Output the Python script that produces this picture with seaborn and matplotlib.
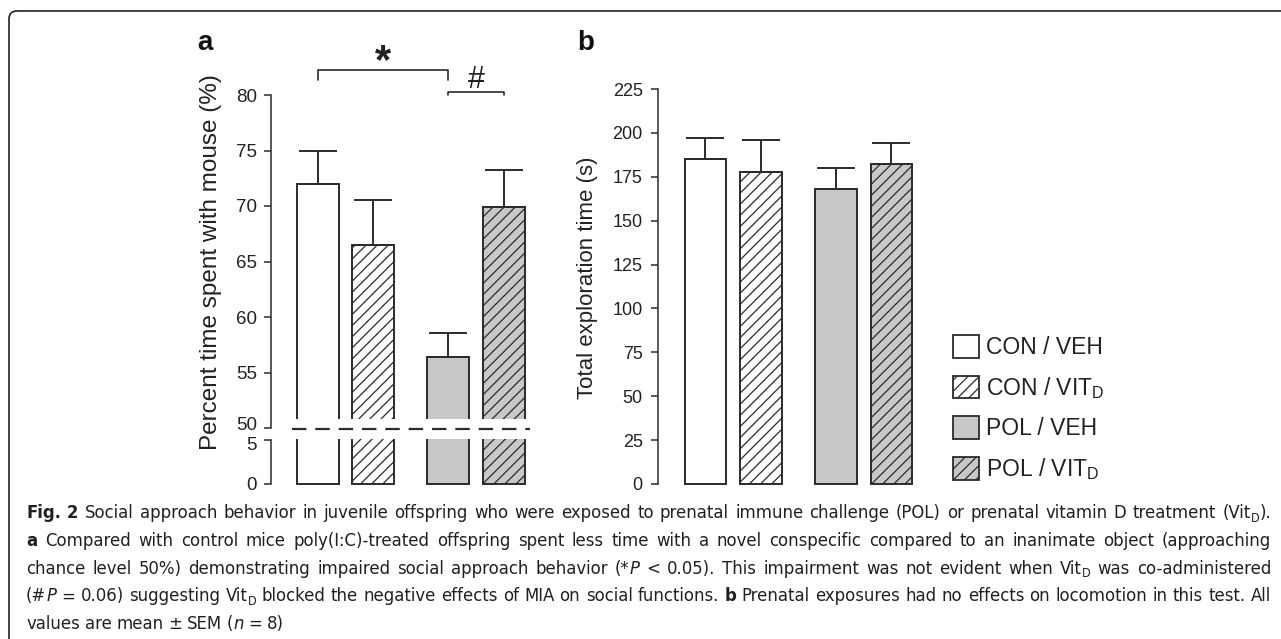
import os
import numpy as np
import pandas as pd
import matplotlib
matplotlib.use('Agg')
import matplotlib.pyplot as plt
import matplotlib.transforms as mtransforms
import seaborn as sns
from matplotlib import font_manager
from matplotlib.font_manager import FontProperties
from matplotlib.lines import Line2D
from matplotlib.patches import Patch, Rectangle, PathPatch
from matplotlib.path import Path

# veriler
exposure = ['CON', 'CON', 'POL', 'POL']
treatment = ['VEH', 'VIT', 'VEH', 'VIT']
social_mean = [72.0, 66.5, 56.4, 69.9]
social_sem = [3.0, 4.0, 2.2, 3.3]
explore_mean = [185, 178, 168, 182]
explore_sem = [12, 18, 12, 12]
group_labels = ['CON / VEH', 'CON / VIT$_\\mathsf{D}$', 'POL / VEH', 'POL / VIT$_\\mathsf{D}$']
bar_fill = ['white', 'white', '#c8c8c8', '#c8c8c8']
bar_hatch = ['', '///', '', '///']
social_ticks_top = [50, 55, 60, 65, 70, 75, 80]
social_ticks_bot = [0, 5]
explore_ticks = [0, 25, 50, 75, 100, 125, 150, 175, 200, 225]

# altyazi: kelimeler bosluga gore, parcalar '|' ile; b: kalin, i: italik, s: alt indis
caption_lines = [
    'b:Fig. b:2 Social approach behavior in juvenile offspring who were exposed to prenatal immune challenge (POL) or prenatal vitamin D treatment (Vit|s:D|).',
    'b:a Compared with control mice poly(I:C)-treated offspring spent less time with a novel conspecific compared to an inanimate object (approaching',
    'chance level 50%) demonstrating impaired social approach behavior (*|i:P < 0.05). This impairment was not evident when Vit|s:D was co-administered',
    '(#|i:P = 0.06) suggesting Vit|s:D blocked the negative effects of MIA on social functions. b:b Prenatal exposures had no effects on locomotion in this test. All',
    'values are mean ± SEM (|i:n = 8)',
]

sns.set_theme(style='ticks')
plt.rcParams['font.family'] = ['Liberation Sans', 'DejaVu Sans']
plt.rcParams['mathtext.fontset'] = 'custom'
plt.rcParams['mathtext.rm'] = 'Liberation Sans'
plt.rcParams['mathtext.sf'] = 'Liberation Sans'
plt.rcParams['hatch.linewidth'] = 0.9


# dar (condensed) bir yazi tipi ara, yoksa Liberation Sans
def find_narrow(bold, italic):
    for f in font_manager.fontManager.ttflist:
        key = (f.name + ' ' + os.path.basename(f.fname)).lower()
        if not ('condensed' in key or 'narrow' in key or f.stretch == 'condensed'):
            continue
        if any(w in key for w in ['semi', 'extra', 'ultra', 'mono', 'serif', 'light', 'medium', 'black', 'thin']):
            continue
        is_bold = 'bold' in key
        is_it = 'italic' in key or 'oblique' in key
        if is_bold == bold and is_it == italic:
            return FontProperties(fname=f.fname)
    return None


faces = {}
for k, (bd, it) in {'r': (False, False), 'b': (True, False), 'i': (False, True)}.items():
    fp = find_narrow(bd, it)
    if fp is None:
        fp = FontProperties(family='Liberation Sans', weight='bold' if bd else 'normal',
                            style='italic' if it else 'normal')
    faces[k] = fp

ink = '#2b2b2b'
W, H = 1281, 639
fig = plt.figure(figsize=(W / 100, H / 100), dpi=100)


def px_box(left, top, right, bottom):
    return [left / W, 1 - bottom / H, (right - left) / W, (bottom - top) / H]


df = pd.DataFrame({'exposure': exposure, 'treatment': treatment,
                   'social': social_mean, 'explore': explore_mean})

ax_top = fig.add_axes(px_box(271, 95, 530, 428))
ax_bot = fig.add_axes(px_box(271, 440, 530, 484))
ax_b = fig.add_axes(px_box(658, 89, 930, 484))


def draw_bars(ax, col, sem, clip_low):
    sns.barplot(data=df, x='exposure', y=col, hue='treatment', hue_order=['VEH', 'VIT'],
                palette=['white', 'white'], width=0.85, gap=0.25, errorbar=None,
                legend=False, edgecolor=ink, linewidth=1.4, ax=ax)
    bars = sorted(ax.patches, key=lambda p: p.get_x())
    clip = Rectangle((-0.5, clip_low), 2, 1.2 - clip_low, transform=ax.transAxes)
    for p, fc, h in zip(bars, bar_fill, bar_hatch):
        p.set_facecolor(fc)
        p.set_hatch(h)
        p.set_clip_path(clip)
    xs = [p.get_x() + p.get_width() / 2 for p in bars]
    ax.errorbar(xs, df[col], yerr=[np.zeros(len(sem)), sem], fmt='none', ecolor=ink,
                elinewidth=1.4, capsize=13.5, capthick=1.4, zorder=1)
    return xs


def style_axis(ax, ticks, size, pad):
    ax.set_yticks(ticks)
    ax.set_xticks([])
    ax.set_xlabel('')
    ax.set_ylabel('')
    for s in ['top', 'right', 'bottom']:
        ax.spines[s].set_visible(False)
    ax.spines['left'].set_color(ink)
    ax.spines['left'].set_linewidth(1.1)
    ax.tick_params(axis='y', length=5, width=1.1, color=ink, labelsize=size,
                   labelcolor='#222222', pad=pad)
    ax.set_facecolor('none')


# panel a (kirik eksen)
xs_a = draw_bars(ax_top, 'social', social_sem, -0.02)
draw_bars(ax_bot, 'social', social_sem, -0.06)
draw_bars(ax_b, 'explore', explore_sem, -0.01)

for ax in [ax_top, ax_bot]:
    ax.set_xlim(-0.571, 1.414)
ax_top.set_ylim(50, 80)
ax_bot.set_ylim(0, 5)
ax_b.set_xlim(-0.576, 1.508)
ax_b.set_ylim(0, 225)
style_axis(ax_top, social_ticks_top, 13.5, 5)
style_axis(ax_bot, social_ticks_bot, 13.5, 5)
style_axis(ax_b, explore_ticks, 13, 6)

# 50 ve 5 etiketlerini birbirinden biraz ayir
lab50 = ax_top.yaxis.get_major_ticks()[0].label1
lab50.set_transform(lab50.get_transform() + mtransforms.ScaledTranslation(0, 0.05, fig.dpi_scale_trans))
lab5 = ax_bot.yaxis.get_major_ticks()[1].label1
lab5.set_transform(lab5.get_transform() + mtransforms.ScaledTranslation(0, -0.04, fig.dpi_scale_trans))

# kirilma bolgesi
fig.patches.append(Rectangle((285 / W, 1 - 439 / H), 250 / W, 20 / H, transform=fig.transFigure,
                             facecolor='white', edgecolor='none', zorder=1))
fig.add_artist(Line2D([292 / W, 530 / W], [1 - 429 / H, 1 - 429 / H], transform=fig.transFigure,
                      color=ink, lw=1.6, dashes=(6.5, 4), zorder=3))

# anlamlilik isaretleri
bk = dict(color=ink, lw=1.2, clip_on=False)
ax_top.plot([xs_a[0], xs_a[0], xs_a[2], xs_a[2]], [81.35, 82.25, 82.25, 81.35], **bk)
ax_top.plot([xs_a[2], xs_a[2], xs_a[3], xs_a[3]], [80.0, 80.27, 80.27, 80.0], **bk)
ax_top.text((xs_a[0] + xs_a[2]) / 2, 82.0, '*', ha='center', va='baseline', fontsize=30,
            fontweight='bold', color='#222222')
ax_top.text((xs_a[2] + xs_a[3]) / 2, 80.6, '#', ha='center', va='baseline', fontsize=22,
            color='#222222')

# etiketler
fig.text(205 / W, 1 - 43 / H, 'a', fontsize=20, fontweight='bold', ha='center', va='center', color='#111111')
fig.text(586 / W, 1 - 43 / H, 'b', fontsize=20, fontweight='bold', ha='center', va='center', color='#111111')
fig.text(211 / W, 1 - 262 / H, 'Percent time spent with mouse (%)', rotation=90, fontsize=17.5,
         ha='center', va='center', color='#222222')
fig.text(588 / W, 1 - 278 / H, 'Total exploration time (s)', rotation=90, fontsize=16,
         ha='center', va='center', color='#222222')

# lejant
handles = [Patch(facecolor=fc, edgecolor=ink, hatch=h, linewidth=1.3) for fc, h in zip(bar_fill, bar_hatch)]
fig.legend(handles, group_labels, loc='upper left', bbox_to_anchor=(953 / W, 1 - 335 / H),
           frameon=False, fontsize=16.5, handlelength=1.15, handleheight=1.15, handletextpad=0.3,
           labelspacing=0.68, borderpad=0, borderaxespad=0, labelcolor='#222222')

# cerceve
pts = [(9, H + 5), (9, 19), (9, 11), (17, 11), (W + 5, 11)]
codes = [Path.MOVETO, Path.LINETO, Path.CURVE3, Path.CURVE3, Path.LINETO]
frame = Path([(x / W, 1 - y / H) for x, y in pts], codes)
fig.patches.append(PathPatch(frame, transform=fig.transFigure, facecolor='none',
                             edgecolor='#222222', lw=1.2))

# altyazi (iki yana yaslanmis)
renderer = fig.canvas.get_renderer()
cap_left, cap_right = 26, 1271


def parse_word(word):
    segs = []
    for part in word.split('|'):
        if part[:2] in ('b:', 'i:', 's:'):
            segs.append((part[2:], part[0]))
        elif part:
            segs.append((part, 'r'))
    return segs


def make_seg(text, kind, size, y):
    fp = faces['r' if kind == 's' else kind].copy()
    fp.set_size(size * 0.68 if kind == 's' else size)
    t = fig.text(0, y, text, fontproperties=fp, color='#231f20', va='baseline')
    if kind == 's':
        t.set_transform(fig.transFigure + mtransforms.ScaledTranslation(0, -size * 0.2 / 72, fig.dpi_scale_trans))
    return t


def build_line(line, size, y):
    words = []
    for w in line.split(' '):
        segs = [make_seg(tx, kd, size, y) for tx, kd in parse_word(w)]
        widths = [s.get_window_extent(renderer).width for s in segs]
        words.append((segs, widths))
    return words


def natural_width(line, size):
    words = build_line(line, size, 0)
    total = sum(sum(ws) for _, ws in words) + 0.26 * size * 100 / 72 * (len(words) - 1)
    for segs, _ in words:
        for s in segs:
            s.remove()
    return total


cap_size = 10 * (cap_right - cap_left) * 0.99 / max(natural_width(l, 10) for l in caption_lines)
for i, line in enumerate(caption_lines):
    y = 1 - (518 + 27.8 * i) / H
    words = build_line(line, cap_size, y)
    total = sum(sum(ws) for _, ws in words)
    space = 0.26 * cap_size * 100 / 72
    if i < len(caption_lines) - 1:
        space = (cap_right - cap_left - total) / (len(words) - 1)
    x = cap_left
    for segs, widths in words:
        for s, w in zip(segs, widths):
            s.set_x(x / W)
            x += w
        x += space

fig.savefig('out.png', dpi=100)
